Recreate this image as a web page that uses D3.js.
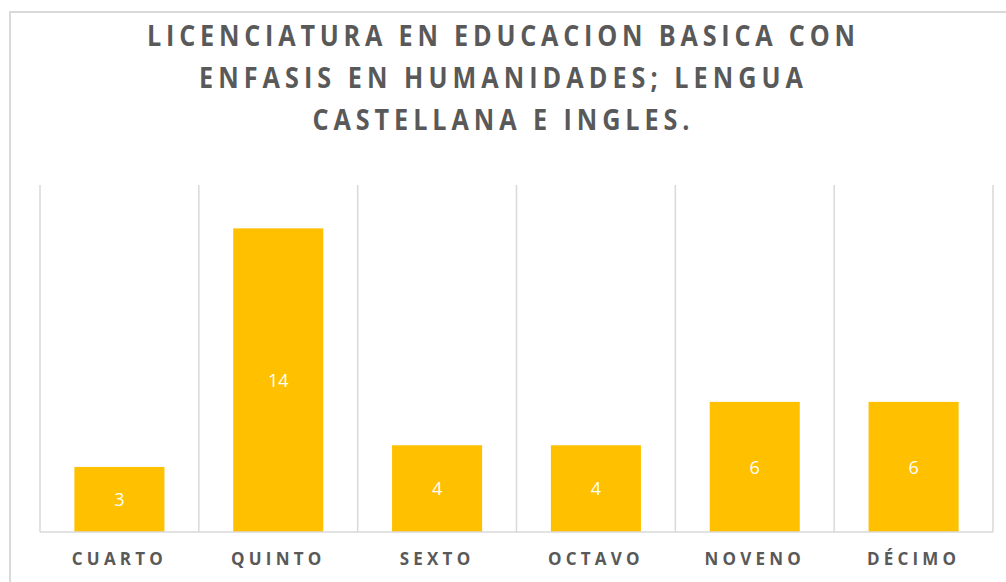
<!DOCTYPE html>
<html>
<head>
<meta charset="utf-8">
<script src="https://cdn.jsdelivr.net/npm/d3@7"></script>
<style>
  html, body { margin: 0; padding: 0; background: #ffffff; }
  svg { display: block; }
</style>
</head>
<body>
<svg id="chart" width="1006" height="582"></svg>
<script>
// Students per grade level
const categories = ["CUARTO", "QUINTO", "SEXTO", "OCTAVO", "NOVENO", "DÉCIMO"];
const values = [3, 14, 4, 4, 6, 6];
const titleLines = [
  "LICENCIATURA EN EDUCACION BASICA CON",
  "ENFASIS EN HUMANIDADES; LENGUA",
  "CASTELLANA E INGLES."
];
const yDomain = [0, 16];

const svg = d3.select("#chart");
const plot = { left: 40, right: 993, top: 185, bottom: 532 };

// Chart frame
svg.append("rect")
  .attr("x", 10).attr("y", 12)
  .attr("width", 1010).attr("height", 600)
  .attr("fill", "#ffffff")
  .attr("stroke", "#d9d9d9")
  .attr("stroke-width", 2);

// Title, three centred lines in a slightly condensed, letter-spaced bold face
const titleWidths = [708, 604, 377];
const squeeze = 0.9;
const titleCx = 501;
const title = svg.append("g")
  .attr("transform", `translate(${titleCx},0) scale(${squeeze},1)`);
titleLines.forEach((line, i) => {
  title.append("text")
    .attr("x", 0)
    .attr("y", 46 + i * 42)
    .attr("text-anchor", "middle")
    .attr("font-family", "'Open Sans', 'Liberation Sans', sans-serif")
    .attr("font-weight", 700)
    .attr("font-size", 28)
    .attr("fill", "#595959")
    .attr("textLength", titleWidths[i] / squeeze)
    .attr("lengthAdjust", "spacing")
    .text(line);
});

const x = d3.scaleBand()
  .domain(categories)
  .range([plot.left, plot.right])
  .paddingInner(0.433)
  .paddingOuter(0.2165);

const y = d3.scaleLinear()
  .domain(yDomain)
  .range([plot.bottom, plot.top]);

// Vertical gridlines at category boundaries
const step = x.step();
const boundaries = d3.range(categories.length + 1).map(i => plot.left + i * step);
svg.append("g")
  .selectAll("line")
  .data(boundaries)
  .join("line")
  .attr("x1", d => d).attr("x2", d => d)
  .attr("y1", plot.top).attr("y2", plot.bottom)
  .attr("stroke", "#d9d9d9")
  .attr("stroke-width", 1.5);

// Bars
svg.append("g")
  .selectAll("rect")
  .data(values)
  .join("rect")
  .attr("x", (d, i) => x(categories[i]))
  .attr("y", d => y(d))
  .attr("width", x.bandwidth())
  .attr("height", d => y(0) - y(d))
  .attr("fill", "#ffc000");

// Value labels centred in bars
svg.append("g")
  .selectAll("text")
  .data(values)
  .join("text")
  .attr("x", (d, i) => x(categories[i]) + x.bandwidth() / 2)
  .attr("y", d => (y(d) + y(0)) / 2)
  .attr("dy", "0.38em")
  .attr("text-anchor", "middle")
  .attr("font-family", "'Open Sans', 'Liberation Sans', sans-serif")
  .attr("font-size", 18)
  .attr("fill", "#ffffff")
  .text(d => d);

// Category axis
const xAxis = svg.append("g")
  .attr("transform", `translate(0,${plot.bottom})`)
  .call(d3.axisBottom(x).tickSize(0).tickPadding(21));
xAxis.select(".domain")
  .attr("d", `M${plot.left},0H${plot.right}`)
  .attr("stroke", "#d9d9d9")
  .attr("stroke-width", 1.5);
xAxis.selectAll("text")
  .attr("font-family", "'Open Sans', 'Liberation Sans', sans-serif")
  .attr("font-weight", 700)
  .attr("font-size", 17)
  .attr("letter-spacing", "4.2px")
  .attr("fill", "#595959");
</script>
</body>
</html>
